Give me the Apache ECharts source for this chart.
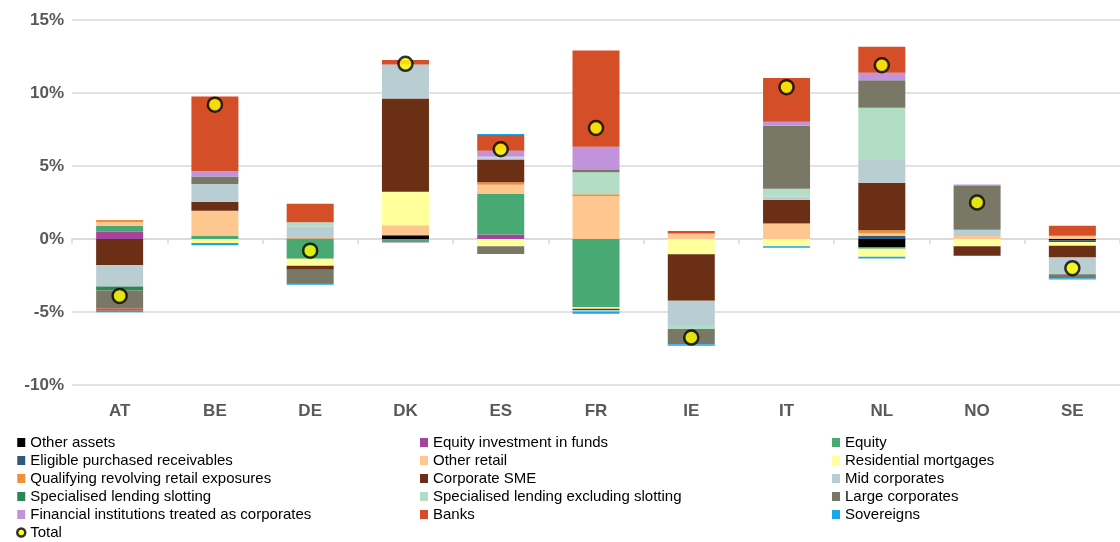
<!DOCTYPE html>
<html>
<head>
<meta charset="utf-8">
<script src="https://cdn.jsdelivr.net/npm/echarts@6/dist/echarts.min.js"></script>
<style>html,body{margin:0;padding:0;background:#fff}#c{width:1120px;height:542px}</style>
</head>
<body>
<div id="c"></div>
<script>
var categories = ['AT','BE','DE','DK','ES','FR','IE','IT','NL','NO','SE'];
var yTicks = [-10, -5, 0, 5, 10, 15];

var otherAssets   = [0, 0, 0, 0.25, 0, 0, 0, 0, -0.55, 0, -0.1];
var equityFunds   = [0.5, 0, 0, 0, 0.3, 0, 0, 0, 0, 0, 0];
var equity        = [0.41, 0.2, -1.35, -0.2, 2.79, -4.65, 0, 0, -0.12, 0, 0];
var eligible      = [0, 0, 0, 0, 0, 0, 0, 0, 0.2, 0, -0.1];
var otherRetail   = [0.25, 1.73, 0, 0.7, 0.62, 2.92, 0.35, 1.03, 0.2, 0.2, 0.22];
var resMortgages  = [0, -0.27, -0.48, 2.28, -0.5, -0.12, -1.05, -0.5, -0.55, -0.5, -0.27];
var qrre          = [0.14, 0, 0.05, 0, 0.18, 0.14, 0.05, 0.05, 0.2, 0, 0];
var corporateSME  = [-1.78, 0.62, -0.27, 6.4, 1.55, -0.1, -3.18, 1.6, 3.26, -0.64, -0.8];
var midCorporates = [-1.48, 1.21, 0.8, 2.33, 0.12, -0.1, -1.66, 0.23, 1.55, 0.44, -1.14];
var slotting      = [-0.27, 0, 0, 0, 0, 0, 0, 0, 0, 0, 0];
var exclSlotting  = [0, 0, 0.3, 0, 0.08, 1.51, -0.27, 0.53, 3.58, 0, 0];
var largeCorp     = [-1.23, 0.52, -0.91, 0, -0.52, 0.16, -1.05, 4.32, 1.88, 2.99, -0.27];
var finInst       = [0, 0.37, 0, -0.05, 0.41, 1.58, 0, 0.27, 0.52, 0.1, 0];
var banks         = [-0.16, 5.11, 1.26, 0.3, 1.07, 6.6, 0.15, 2.99, 1.78, 0, 0.68];
var sovereigns    = [-0.1, -0.15, -0.12, 0, 0.07, -0.15, -0.1, -0.1, -0.12, 0, -0.1];
var total         = [-3.9, 9.2, -0.8, 12.0, 6.15, 7.6, -6.75, 10.4, 11.9, 2.5, -2.0];

var barSeries = [
  ['Other assets', otherAssets, '#000000'],
  ['Equity investment in funds', equityFunds, '#a4449c'],
  ['Equity', equity, '#48a972'],
  ['Eligible purchased receivables', eligible, '#305a7d'],
  ['Other retail', otherRetail, '#fec78f'],
  ['Residential mortgages', resMortgages, '#ffff9b'],
  ['Qualifying revolving retail exposures', qrre, '#ef8f39'],
  ['Corporate SME', corporateSME, '#6b2f16'],
  ['Mid corporates', midCorporates, '#b9ced3'],
  ['Specialised lending slotting', slotting, '#2d8658'],
  ['Specialised lending excluding slotting', exclSlotting, '#b3dec6'],
  ['Large corporates', largeCorp, '#797866'],
  ['Financial institutions treated as corporates', finInst, '#c293db'],
  ['Banks', banks, '#d44e28'],
  ['Sovereigns', sovereigns, '#1aa7ea']
];

var series = barSeries.map(function (s) {
  return {
    name: s[0], type: 'bar', stack: 'all', data: s[1], barWidth: 47,
    xAxisIndex: 0, yAxisIndex: 0,
    itemStyle: { color: s[2] }, emphasis: { disabled: true }
  };
});
series.push({
  name: 'Total', type: 'scatter', data: total, symbol: 'circle', symbolSize: 14, z: 10,
  itemStyle: { color: '#ffff00', borderColor: '#000000', borderWidth: 2.5 }
});

var legendFont = { fontFamily: '"Liberation Sans", Arial, sans-serif', fontSize: 15, color: '#000' };
function legendCol(left, names) {
  return {
    orient: 'vertical', left: left, top: 435, itemWidth: 8, itemHeight: 9, itemGap: 3,
    icon: 'rect', textStyle: legendFont, data: names, selectedMode: false, padding: 0
  };
}

var col1 = ['Other assets', 'Eligible purchased receivables', 'Qualifying revolving retail exposures', 'Specialised lending slotting', 'Financial institutions treated as corporates'];
var col2 = ['Equity investment in funds', 'Other retail', 'Corporate SME', 'Specialised lending excluding slotting', 'Banks'];
var col3 = ['Equity', 'Residential mortgages', 'Mid corporates', 'Large corporates', 'Sovereigns'];

var legend1 = legendCol(16, col1.map(function (n) { return { name: n }; }).concat([{ name: 'Total', icon: 'circle', itemStyle: { color: '#ffff00', borderColor: '#000', borderWidth: 2.5 } }]));

var option = {
  animation: false,
  backgroundColor: '#ffffff',
  grid: { left: 72, top: 20, width: 1050, height: 365, containLabel: false },
  xAxis: [
    {
      type: 'category', data: categories, position: 'bottom',
      axisLine: { show: false, onZero: false }, axisTick: { show: false },
      axisLabel: { margin: 18, fontSize: 17, fontWeight: 'bold', color: '#595959', fontFamily: '"Liberation Sans", Arial, sans-serif' }
    },
    {
      type: 'category', data: categories, position: 'bottom',
      axisLine: { show: true, onZero: true, lineStyle: { color: '#d9d9d9', width: 1.5 } },
      axisTick: { show: true, length: 5, inside: false, lineStyle: { color: '#d9d9d9', width: 1.5 } },
      axisLabel: { show: false }
    }
  ],
  yAxis: {
    type: 'value', min: -10, max: 15, interval: 5,
    axisLine: { show: false }, axisTick: { show: false },
    splitLine: { lineStyle: { color: '#d9d9d9', width: 1.5 } },
    axisLabel: {
      margin: 8, fontSize: 17, fontWeight: 'bold', color: '#595959', fontFamily: '"Liberation Sans", Arial, sans-serif',
      formatter: function (v) { return yTicks.indexOf(v) >= 0 ? v + '%' : ''; }
    }
  },
  legend: [
    legend1,
    legendCol(420, col2),
    legendCol(832, col3)
  ],
  series: series
};

var chart = echarts.init(document.getElementById('c'), null, { renderer: 'canvas' });
chart.setOption(option);
</script>
</body>
</html>
